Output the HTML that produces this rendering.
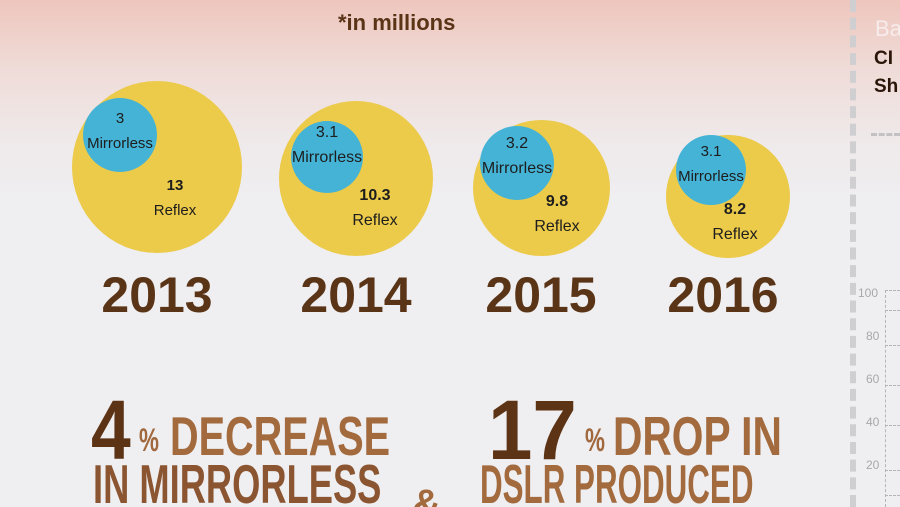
<!DOCTYPE html>
<html><head><style>
html,body{margin:0;width:900px;height:507px;overflow:hidden}
body{position:relative;font-family:"Liberation Sans",sans-serif;background:linear-gradient(#eec6bd 0px,#efdcd8 70px,#efe9ea 140px,#efeef1 200px,#efeef1 507px);}
.a{position:absolute;white-space:nowrap}
.c{position:absolute;border-radius:50%}
.y{background:#ecca4a}.b{background:#45b3d6}
.yr{position:absolute;font-weight:bold;font-size:50px;color:#5a3416;transform:translateX(-50%);top:266px}
.t{position:absolute;font-size:15px;color:#1d1d1d;text-align:center;line-height:25px;transform:translateX(-50%);white-space:nowrap}
.big{position:absolute;font-weight:bold;color:#5c3415;transform-origin:0 0;white-space:nowrap;line-height:1}
</style></head><body>
<div class="a" style="left:338px;top:10px;font-weight:bold;font-size:22px;color:#5a3416">*in millions</div>

<div class="c y" style="left:72px;top:81px;width:170px;height:172px"></div>
<div class="c b" style="left:83px;top:98px;width:74px;height:74px"></div>
<div class="t" style="left:120px;top:106px">3<br>Mirrorless</div>
<div class="t" style="left:175px;top:173px"><b>13</b><br>Reflex</div>

<div class="c y" style="left:279px;top:101px;width:154px;height:155px"></div>
<div class="c b" style="left:291px;top:121px;width:72px;height:72px"></div>
<div class="t" style="left:327px;top:120px;font-size:16px">3.1<br>Mirrorless</div>
<div class="t" style="left:375px;top:183px;font-size:16px"><b>10.3</b><br>Reflex</div>

<div class="c y" style="left:473px;top:120px;width:137px;height:136px"></div>
<div class="c b" style="left:480px;top:126px;width:74px;height:74px"></div>
<div class="t" style="left:517px;top:131px;font-size:16px">3.2<br>Mirrorless</div>
<div class="t" style="left:557px;top:189px;font-size:16px"><b>9.8</b><br>Reflex</div>

<div class="c y" style="left:666px;top:135px;width:124px;height:123px"></div>
<div class="c b" style="left:676px;top:135px;width:70px;height:70px"></div>
<div class="t" style="left:711px;top:139px;font-size:15px">3.1<br>Mirrorless</div>
<div class="t" style="left:735px;top:197px;font-size:16px"><b>8.2</b><br>Reflex</div>

<div class="yr" style="left:157px">2013</div>
<div class="yr" style="left:356px">2014</div>
<div class="yr" style="left:541px">2015</div>
<div class="yr" style="left:723px">2016</div>

<div class="big" style="left:91px;top:388px;font-size:84px;transform:scaleX(.85)">4</div>
<div class="big" style="left:139px;top:424px;font-size:32px;color:#a0683c;transform:scaleX(.7)">%</div>
<div class="big" style="left:170px;top:409px;font-size:55px;color:#a26a3d;transform:scaleX(.72)">DECREASE</div>
<div class="big" style="left:93px;top:457px;font-size:55px;color:#8a5530;transform:scaleX(.66)">IN MIRRORLESS</div>
<div class="a" style="left:412px;top:484px;font-size:40px;font-weight:bold;color:#a26a3d;line-height:1">&amp;</div>
<div class="big" style="left:488px;top:388px;font-size:84px;transform:scaleX(.95)">17</div>
<div class="big" style="left:585px;top:424px;font-size:32px;color:#a0683c;transform:scaleX(.7)">%</div>
<div class="big" style="left:613px;top:409px;font-size:55px;color:#a26a3d;transform:scaleX(.74)">DROP IN</div>
<div class="big" style="left:480px;top:457px;font-size:55px;color:#a26a3d;transform:scaleX(.57)">DSLR PRODUCED</div>

<div class="a" style="left:850px;top:0;height:507px;border-left:6px dashed #cfcfd2"></div>
<div class="a" style="left:875px;top:16px;font-size:22px;color:#f6ecec">Ba</div>
<div class="a" style="left:874px;top:48px;font-size:19px;font-weight:bold;color:#2a1508">CI</div>
<div class="a" style="left:874px;top:76px;font-size:19px;font-weight:bold;color:#2a1508">Sh</div>
<div class="a" style="left:871px;top:133px;width:29px;border-top:3px dashed #c2c2c4"></div>
<div class="a" style="left:858px;top:286px;font-size:12px;color:#a8a8aa;line-height:14px">100</div>
<div class="a" style="left:866px;top:329px;font-size:12px;color:#a8a8aa;line-height:14px">80</div>
<div class="a" style="left:866px;top:372px;font-size:12px;color:#a8a8aa;line-height:14px">60</div>
<div class="a" style="left:866px;top:415px;font-size:12px;color:#a8a8aa;line-height:14px">40</div>
<div class="a" style="left:866px;top:458px;font-size:12px;color:#a8a8aa;line-height:14px">20</div>
<div class="a" style="left:885px;top:290px;height:217px;border-left:1px dashed #b5b5b8"></div>
<div class="a" style="left:885px;top:290px;width:15px;border-top:1px dashed #b5b5b8"></div>
<div class="a" style="left:885px;top:310px;width:15px;border-top:1px dashed #b5b5b8"></div>
<div class="a" style="left:885px;top:345px;width:15px;border-top:1px dashed #b5b5b8"></div>
<div class="a" style="left:885px;top:385px;width:15px;border-top:1px dashed #b5b5b8"></div>
<div class="a" style="left:885px;top:425px;width:15px;border-top:1px dashed #b5b5b8"></div>
<div class="a" style="left:885px;top:470px;width:15px;border-top:1px dashed #b5b5b8"></div>
<div class="a" style="left:885px;top:495px;width:15px;border-top:1px dashed #b5b5b8"></div>
</body></html>
